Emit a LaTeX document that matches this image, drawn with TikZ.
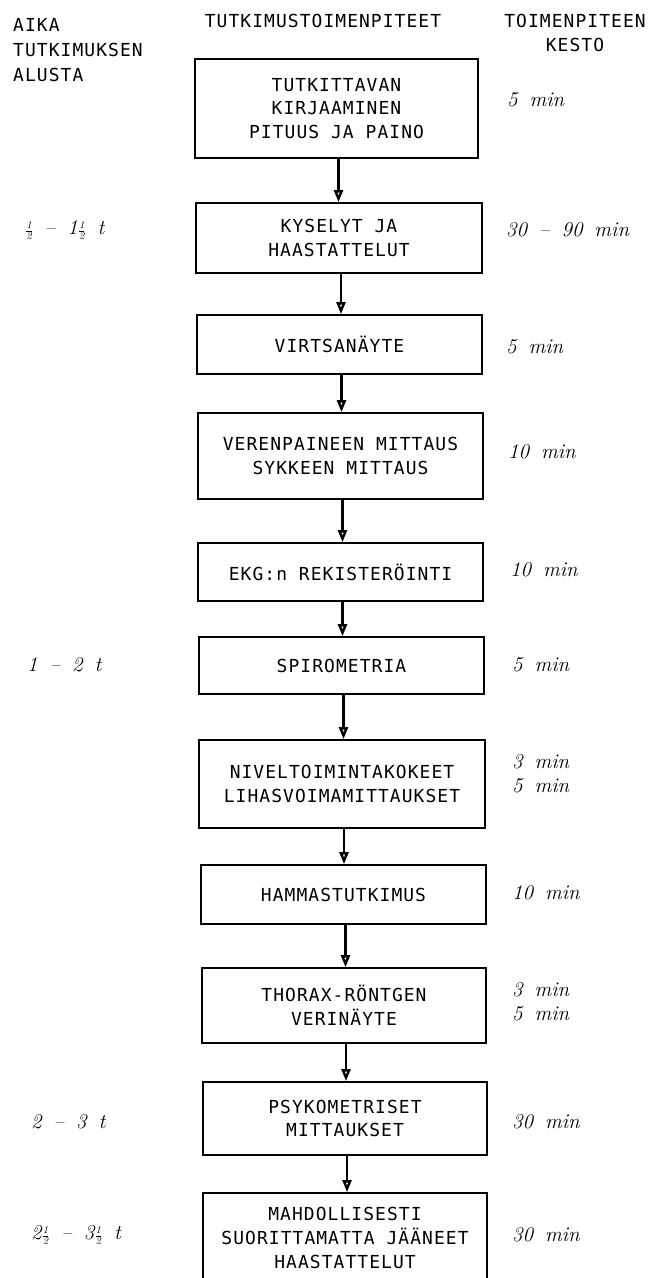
\documentclass[tikz,border=0pt]{standalone}
\usepackage{fontspec}
\newfontfamily\twfont[LetterSpace=6]{DejaVu Sans Mono}
\usetikzlibrary{arrows.meta}
\newcommand{\hlf}{$\scriptstyle\frac{\mathit 1}{\mathit 2}$}
\newcommand{\durfont}{\itshape\fontsize{21}{24}\selectfont\spaceskip 12bp plus 2bp\relax}
\tikzset{
  twtext/.style={font=\twfont\fontsize{18}{24}\selectfont, inner sep=0pt},
  stepbox/.style={draw, line width=1.8bp, twtext, align=center},
  dur/.style={font=\durfont, anchor=west, inner sep=0pt, align=left},
  flow/.style={line width=2.4bp, -{Triangle[open, length=12bp, width=9bp]}},
}
\begin{document}
\begin{tikzpicture}[x=1bp, y=-1bp]
\useasboundingbox (0,0) rectangle (653,1278);
\clip (0,0) rectangle (653,1278);
\fill[white] (0,0) rectangle (653,1278);

% headers
\node[twtext, anchor=west, align=left, font=\twfont\fontsize{18}{25}\selectfont] (hleft) at (13,50) {AIKA\\TUTKIMUKSEN\\ALUSTA};
\node[twtext] (hmid) at (323,21) {TUTKIMUSTOIMENPITEET};
\node[twtext, align=center, font=\twfont\fontsize{18}{25}\selectfont] (hright) at (575,33) {TOIMENPITEEN\\KESTO};

% boxes
\node[stepbox, minimum width=283bp, minimum height=99bp] (b1) at (336.5,108.5) {TUTKITTAVAN\\KIRJAAMINEN\\PITUUS JA PAINO};
\node[stepbox, minimum width=286bp, minimum height=70bp] (b2) at (339,238) {KYSELYT JA\\HAASTATTELUT};
\node[stepbox, minimum width=285bp, minimum height=59bp] (b3) at (339.5,344.5) {VIRTSANÄYTE};
\node[stepbox, minimum width=285bp, minimum height=86bp] (b4) at (340.5,456) {VERENPAINEEN MITTAUS\\SYKKEEN MITTAUS};
\node[stepbox, minimum width=285bp, minimum height=58bp] (b5) at (340.5,572) {EKG:n REKISTERÖINTI};
\node[stepbox, minimum width=285bp, minimum height=57bp] (b6) at (341.5,665.5) {SPIROMETRIA};
\node[stepbox, minimum width=286bp, minimum height=88bp] (b7) at (342,784) {NIVELTOIMINTAKOKEET\\LIHASVOIMAMITTAUKSET};
\node[stepbox, minimum width=285bp, minimum height=59bp] (b8) at (343.5,894.5) {HAMMASTUTKIMUS};
\node[stepbox, minimum width=284bp, minimum height=75bp] (b9) at (344,1005.5) {THORAX-RÖNTGEN\\VERINÄYTE};
\node[stepbox, minimum width=284bp, minimum height=73bp] (b10) at (345,1118.5) {PSYKOMETRISET\\MITTAUKSET};
\node[stepbox, minimum width=284bp, minimum height=90bp] (b11) at (345,1238) {MAHDOLLISESTI\\SUORITTAMATTA JÄÄNEET\\HAASTATTELUT};

% arrows
\foreach \a/\b in {b1/b2,b2/b3,b3/b4,b4/b5,b5/b6,b6/b7,b7/b8,b8/b9,b9/b10,b10/b11}
  \draw[flow] ([xshift=2bp]\a.south) -- ([xshift=2bp]\a.south |- \b.north);

% durations
\node[dur] (d1) at (507,100) {5 min};
\node[dur] (d2) at (506,230) {30 -- 90 min};
\node[dur] (d3) at (506,347) {5 min};
\node[dur] (d4) at (508,452) {10 min};
\node[dur] (d5) at (510,570) {10 min};
\node[dur] (d6) at (512,665) {5 min};
\node[dur] (d7) at (512,774) {3 min\\5 min};
\node[dur] (d8) at (512,893) {10 min};
\node[dur] (d9) at (512,1002) {3 min\\5 min};
\node[dur] (d10) at (512,1122) {30 min};
\node[dur] (d11) at (512,1235) {30 min};

% times from start
\node[dur] (t2) at (25,230) {\hlf{} -- 1\hlf{} t};
\node[dur] (t6) at (27,665) {1 -- 2 t};
\node[dur] (t10) at (31,1122) {2 -- 3 t};
\node[dur] (t11) at (31,1235) {2\hlf{} -- 3\hlf{} t};
\end{tikzpicture}
\end{document}
